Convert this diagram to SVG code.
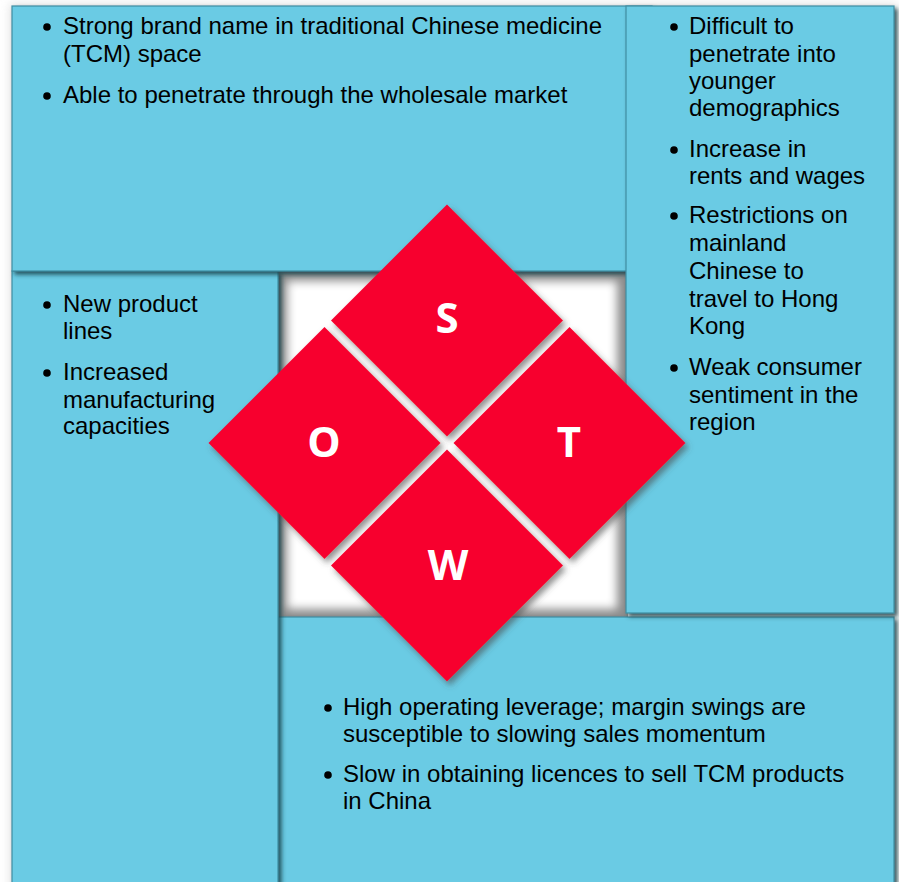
<svg xmlns="http://www.w3.org/2000/svg" width="899" height="882" viewBox="0 0 899 882">
  <style>
    .panel { fill: #6ACBE4; stroke: #3F8EA2; stroke-width: 1.2; filter: url(#panelShadow); }
    .diamond { fill: #F7002E; filter: url(#diamondShadow); }
    .letter { font-family: "Open Sans", "DejaVu Sans", sans-serif; font-weight: 700; font-size: 42px; fill: #FFFFFF; text-anchor: middle; }
    .body { font-family: "Liberation Sans", Arial, sans-serif; font-size: 24px; fill: #000000; }
    .dot { fill: #000000; }
  </style>
  <defs>
    <filter id="panelShadow" x="-5%" y="-5%" width="112%" height="112%">
      <feDropShadow dx="3" dy="3" stdDeviation="2" flood-color="#173F4A" flood-opacity="0.85"/>
    </filter>
    <filter id="diamondShadow" x="-10%" y="-10%" width="125%" height="125%">
      <feDropShadow dx="3" dy="4" stdDeviation="3" flood-color="#4A4A4A" flood-opacity="0.6"/>
    </filter>
    <filter id="soften" x="-10%" y="-10%" width="120%" height="120%">
      <feGaussianBlur stdDeviation="5"/>
    </filter>
    <clipPath id="centreClip">
      <rect x="276" y="270" width="352" height="350"/>
    </clipPath>
  </defs>

  <rect width="899" height="882" fill="#FFFFFF"/>

  <!-- light halo around the whole board -->
  <rect x="9" y="3" width="888" height="890" fill="#D8D8D8" filter="url(#soften)" opacity="0.6"/>

  <!-- white centre well with a soft inner shadow -->
  <g id="centre" clip-path="url(#centreClip)">
    <rect x="276" y="270" width="352" height="350" fill="#8C8C8C"/>
    <rect x="287" y="281" width="330" height="328" fill="#FFFFFF" filter="url(#soften)"/>
  </g>

  <!-- Weaknesses panel -->
  <g id="weaknesses">
    <rect class="panel" x="278" y="617" width="616" height="280"/>
    <circle class="dot" cx="328" cy="708" r="3.8"/>
    <text class="body" x="343" y="715">High operating leverage; margin swings are</text>
    <text class="body" x="343" y="742">susceptible to slowing sales momentum</text>
    <circle class="dot" cx="328" cy="775" r="3.8"/>
    <text class="body" x="343" y="782">Slow in obtaining licences to sell TCM products</text>
    <text class="body" x="343" y="809">in China</text>
  </g>

  <!-- Opportunities panel -->
  <g id="opportunities">
    <rect class="panel" x="12" y="271" width="266" height="626"/>
    <circle class="dot" cx="47" cy="305" r="3.8"/>
    <text class="body" x="63" y="312">New product</text>
    <text class="body" x="63" y="339">lines</text>
    <circle class="dot" cx="47" cy="373" r="3.8"/>
    <text class="body" x="63" y="380">Increased</text>
    <text class="body" x="63" y="408">manufacturing</text>
    <text class="body" x="63" y="434">capacities</text>
  </g>

  <!-- Strengths panel -->
  <g id="strengths">
    <rect class="panel" x="12" y="6" width="640" height="265"/>
    <circle class="dot" cx="47" cy="27" r="3.8"/>
    <text class="body" x="63" y="34">Strong brand name in traditional Chinese medicine</text>
    <text class="body" x="63" y="62">(TCM) space</text>
    <circle class="dot" cx="47" cy="96" r="3.8"/>
    <text class="body" x="63" y="103">Able to penetrate through the wholesale market</text>
  </g>

  <!-- Threats panel -->
  <g id="threats">
    <rect class="panel" x="626" y="6" width="268" height="607"/>
    <circle class="dot" cx="674" cy="27" r="3.8"/>
    <text class="body" x="689" y="34">Difficult to</text>
    <text class="body" x="689" y="62">penetrate into</text>
    <text class="body" x="689" y="89">younger</text>
    <text class="body" x="689" y="116">demographics</text>
    <circle class="dot" cx="674" cy="150" r="3.8"/>
    <text class="body" x="689" y="157">Increase in</text>
    <text class="body" x="689" y="184">rents and wages</text>
    <circle class="dot" cx="674" cy="216" r="3.8"/>
    <text class="body" x="689" y="223">Restrictions on</text>
    <text class="body" x="689" y="251">mainland</text>
    <text class="body" x="689" y="279">Chinese to</text>
    <text class="body" x="689" y="307">travel to Hong</text>
    <text class="body" x="689" y="334">Kong</text>
    <circle class="dot" cx="674" cy="368" r="3.8"/>
    <text class="body" x="689" y="375">Weak consumer</text>
    <text class="body" x="689" y="403">sentiment in the</text>
    <text class="body" x="689" y="430">region</text>
  </g>

  <!-- SWOT diamonds -->
  <g id="diamond-s">
    <polygon class="diamond" points="447,204.5 563,320.5 447,436.5 331,320.5"/>
    <text class="letter" x="447" y="333">S</text>
  </g>
  <g id="diamond-o">
    <polygon class="diamond" points="324.5,327 440.5,443 324.5,559 208.5,443"/>
    <text class="letter" x="324" y="457">O</text>
  </g>
  <g id="diamond-t">
    <polygon class="diamond" points="569.5,327 685.5,443 569.5,559 453.5,443"/>
    <text class="letter" x="569" y="457">T</text>
  </g>
  <g id="diamond-w">
    <polygon class="diamond" points="447,449.5 563,565.5 447,681.5 331,565.5"/>
    <text class="letter" x="448" y="580">W</text>
  </g>

  <g id="connectors"/>
</svg>
